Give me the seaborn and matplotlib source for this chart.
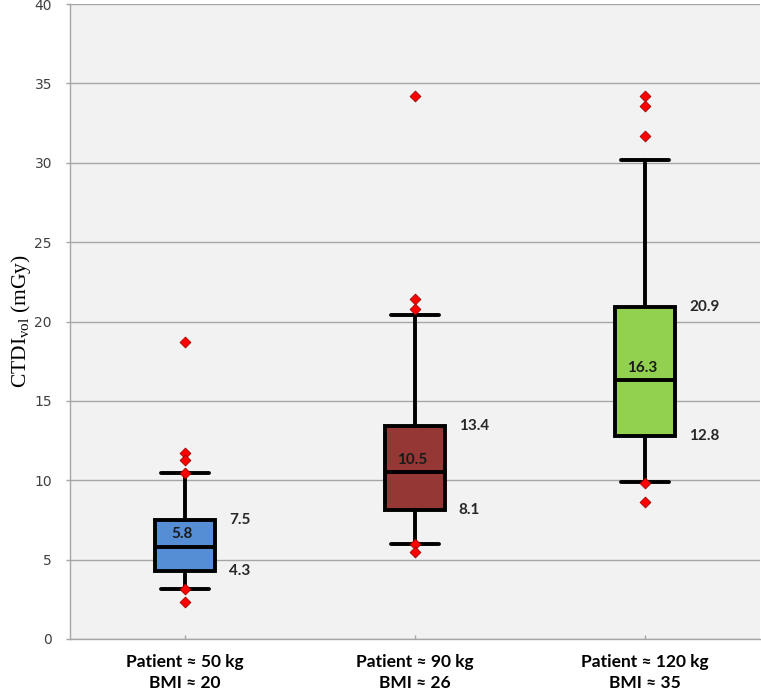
import matplotlib
matplotlib.use("Agg")
import matplotlib.pyplot as plt
import seaborn as sns
import pandas as pd

# box statistics (CTDIvol, mGy)
groups = ["Patient \u2248 50 kg\nBMI \u2248 20",
          "Patient \u2248 90 kg\nBMI \u2248 26",
          "Patient \u2248 120 kg\nBMI \u2248 35"]
q1 = [4.3, 8.1, 12.8]
medians = [5.8, 10.5, 16.3]
q3 = [7.5, 13.4, 20.9]
whisker_low = [3.15, 6.0, 9.9]
whisker_high = [10.45, 20.4, 30.2]
box_colors = ["#558ed5", "#953735", "#92d050"]

# outliers per group
outliers = [
    [18.7, 11.7, 11.3, 10.45, 3.15, 2.3],
    [34.2, 21.4, 20.8, 6.0, 5.45],
    [34.2, 33.6, 31.7, 9.8, 8.6],
]

sns.set_style("whitegrid", {
    "axes.facecolor": "#f2f2f2",
    "grid.color": "#a6a6a6",
    "axes.edgecolor": "#a6a6a6",
})

fig = plt.figure(figsize=(7.61, 6.92), dpi=100)
ax = fig.add_axes([0.092, 0.0766, 0.907, 0.9176])

# outliers drawn with seaborn's categorical scale
flier_df = pd.DataFrame({
    "group": [g for g, vals in zip(groups, outliers) for _ in vals],
    "value": [v for vals in outliers for v in vals],
})
sns.stripplot(data=flier_df, x="group", y="value", order=groups, jitter=False,
              marker="D", color="#ff0000", edgecolor="#a00000", linewidth=0.6,
              size=5.5, zorder=5, ax=ax)

stats = []
for i in range(len(groups)):
    stats.append({"med": medians[i], "q1": q1[i], "q3": q3[i],
                  "whislo": whisker_low[i], "whishi": whisker_high[i],
                  "fliers": []})

lw = 2.8
bp = ax.bxp(stats, positions=range(len(groups)), widths=0.26, capwidths=0.21,
            patch_artist=True, showfliers=False, manage_ticks=False,
            boxprops=dict(linewidth=lw, edgecolor="black"),
            whiskerprops=dict(linewidth=lw, color="black"),
            capprops=dict(linewidth=lw, color="black"),
            medianprops=dict(linewidth=lw, color="black"))
for patch, c in zip(bp["boxes"], box_colors):
    patch.set_facecolor(c)

# value labels
for i in range(len(groups)):
    for v in (q1[i], q3[i]):
        ax.text(i + 0.19, v, f"{v:.1f}", ha="left", va="center",
                fontsize=11, fontweight="bold", color="#262626",
                family=["Lato", "DejaVu Sans"])
    ax.annotate(f"{medians[i]:.1f}", (i - 0.015, medians[i]), xytext=(0, 4),
                textcoords="offset points", ha="center", va="bottom",
                fontsize=11, fontweight="bold", color="#1a1a1a",
                family=["Lato", "DejaVu Sans"])

ax.set_xlim(-0.5, 2.5)
ax.set_ylim(0, 40)
ax.set_yticks(range(0, 41, 5))
ax.grid(axis="x", visible=False)
ax.grid(axis="y", linewidth=1.0)
ax.set_axisbelow(True)
for s in ("top", "right"):
    ax.spines[s].set_visible(False)
ax.spines["left"].set_linewidth(1.0)
ax.spines["bottom"].set_linewidth(1.0)

ax.tick_params(axis="y", which="major", left=True, length=3, width=1,
               color="#a6a6a6", labelsize=10, labelcolor="#404040", pad=10)
ax.tick_params(axis="x", which="major", bottom=True, direction="in",
               length=3, width=1, color="#a6a6a6", pad=11)
for lab in ax.get_xticklabels():
    lab.set_fontweight("bold")
    lab.set_fontsize(12.5)
    lab.set_family(["Lato", "DejaVu Sans"])
    lab.set_color("black")
    lab.set_linespacing(1.4)

ax.set_xlabel("")
ax.set_ylabel(r"CTDI$_{\mathregular{vol}}$ (mGy)", fontsize=15.5,
              family="Liberation Serif", color="black", labelpad=1)

fig.savefig("out.png", dpi=100)
